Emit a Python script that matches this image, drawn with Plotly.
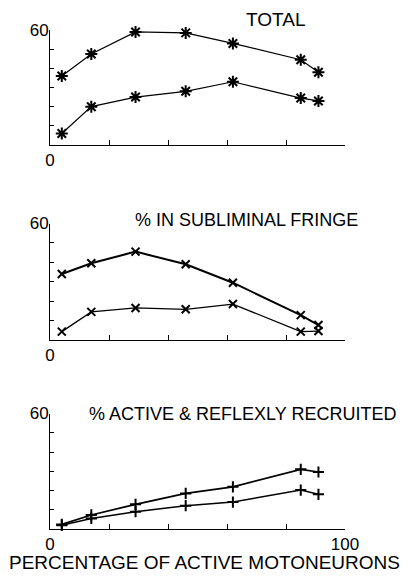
import plotly.graph_objects as go

# x positions (percentage of active motoneurons), shared by all panels
pct_active = [4, 14, 29, 46, 62, 85, 91]

# panel 1: TOTAL
total_upper = [36, 47.5, 59, 58.5, 53, 44.5, 38]
total_lower = [6, 20, 25, 28, 33, 24.5, 23]

# panel 2: % IN SUBLIMINAL FRINGE
fringe_upper = [34, 39.5, 45.5, 39, 29.5, 12.8, 7.7]
fringe_lower = [4.3, 14.5, 16.5, 15.8, 18.5, 4.3, 4.6]

# panel 3: % ACTIVE & REFLEXLY RECRUITED
active_upper = [2.4, 7.3, 12.8, 18.5, 21.9, 31, 29.6]
active_lower = [1.9, 5.5, 9, 12.1, 14, 20.2, 18]

panel_titles = ["TOTAL", "% IN SUBLIMINAL FRINGE", "% ACTIVE & REFLEXLY RECRUITED"]
x_label = "PERCENTAGE OF ACTIVE MOTONEURONS"

# the page body has an 8px margin, so the figure is a bit smaller than the window
PAD = 8
W, H = 410 - PAD, 579 - PAD
FONT = "Liberation Sans, Arial, sans-serif"


def px_x(x):
    return (x - PAD) / W


def px_y(y):
    return 1 - (y - PAD) / H


fig = go.Figure()

panels = [
    # (upper, lower, marker, widths, y0 px, y60 px, axis suffix)
    (total_upper, total_lower, "asterisk-open", (1.2, 1.2), 145, 30, ""),
    (fringe_upper, fringe_lower, "x-thin-open", (2, 1.3), 340, 223.5, "2"),
    (active_upper, active_lower, "cross-thin-open", (1.7, 1.5), 529, 413.5, "3"),
]

for i, (up, lo, sym, lw, y0, y60, sfx) in enumerate(panels):
    for vals, w in [(up, lw[0]), (lo, lw[1])]:
        fig.add_trace(go.Scatter(
            x=pct_active, y=vals,
            mode="lines+markers",
            line=dict(color="black", width=w),
            marker=dict(symbol=sym, size=10 if i == 0 else 8,
                        color="black", line=dict(color="black", width=2)),
            xaxis="x" + sfx, yaxis="y" + sfx,
            showlegend=False, cliponaxis=False,
        ))

    last = i == 2
    xticktext = ["0", "", "", "", "", "100" if last else ""]
    fig.layout["xaxis" + sfx] = dict(
        domain=[px_x(50), px_x(345)], range=[0, 100], anchor="y" + sfx,
        showline=True, linecolor="black", linewidth=1,
        ticks="inside", ticklen=5, tickwidth=1, tickcolor="black",
        tickvals=[0, 20, 40, 60, 80, 100], ticktext=xticktext,
        showgrid=False, zeroline=False, automargin=False,
        tickfont=dict(family=FONT, size=17, color="black"),
    )
    fig.layout["yaxis" + sfx] = dict(
        domain=[px_y(y0), px_y(y60)], range=[0, 60], anchor="x" + sfx,
        showline=True, linecolor="black", linewidth=1,
        ticks="inside", ticklen=4, tickwidth=1, tickcolor="black",
        tickvals=[0, 10, 20, 30, 40, 50, 60],
        ticktext=["", "", "", "", "", "", "60"],
        showgrid=False, zeroline=False, automargin=False,
        ticklabelstandoff=-3,
        tickfont=dict(family=FONT, size=17, color="black"),
    )

# panel titles
title_pos = [(275, 20), (246, 220), (242, 414)]
title_size = [19, 18, 18]
for t, (px, py), fs in zip(panel_titles, title_pos, title_size):
    fig.add_annotation(
        text=t, x=px_x(px), y=px_y(py), xref="paper", yref="paper",
        showarrow=False, xanchor="center", yanchor="middle",
        font=dict(family=FONT, size=fs, color="black"),
    )

# x-axis title under the bottom panel
fig.add_annotation(
    text=x_label, x=px_x(204), y=px_y(562), xref="paper", yref="paper",
    showarrow=False, xanchor="center", yanchor="middle",
    font=dict(family=FONT, size=19, color="black"),
)

fig.update_layout(
    width=W, height=H,
    margin=dict(l=0, r=0, t=0, b=0),
    paper_bgcolor="white", plot_bgcolor="white",
)

fig.write_html("out.html")
